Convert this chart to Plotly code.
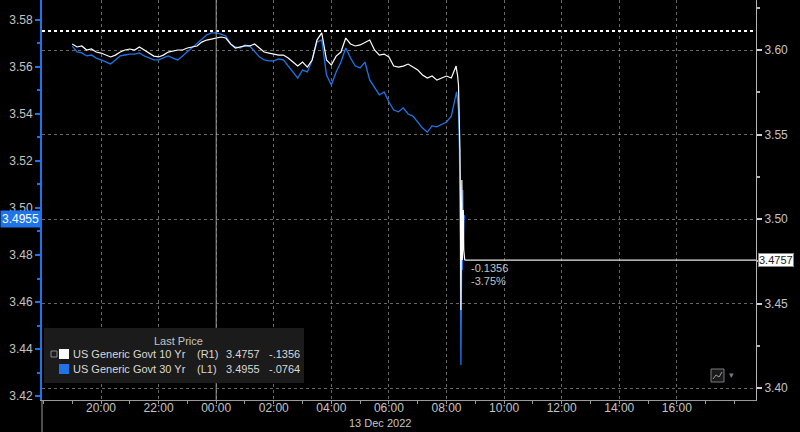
import pandas as pd
import plotly.graph_objects as go

# ---------------- data ----------------
times_regular = list(pd.date_range("2022-12-12 19:00", "2022-12-13 08:20", freq="10min"))
times_drop = list(pd.to_datetime([
    "2022-12-13 08:21", "2022-12-13 08:23", "2022-12-13 08:25", "2022-12-13 08:27",
    "2022-12-13 08:28", "2022-12-13 08:29", "2022-12-13 08:30", "2022-12-13 08:31",
    "2022-12-13 08:32", "2022-12-13 08:33", "2022-12-13 08:34", "2022-12-13 08:35",
    "2022-12-13 08:36", "2022-12-13 08:37", "2022-12-13 08:38"]))
times = times_regular + times_drop

# US Generic Govt 10 Yr (right axis)
ten_yr = [
    3.6036, 3.6018, 3.6024, 3.6000, 3.6006, 3.5988, 3.5982, 3.5970, 3.5959, 3.5970,
    3.5988, 3.6000, 3.6006, 3.6000, 3.6018, 3.6000, 3.5982, 3.5964, 3.5959, 3.5970,
    3.5988, 3.5994, 3.6000, 3.6000, 3.6012, 3.6018, 3.6024, 3.6047, 3.6059, 3.6065,
    3.6071, 3.6077, 3.6071, 3.6036, 3.6012, 3.6018, 3.6024, 3.6024, 3.6036, 3.6012,
    3.5988, 3.5982, 3.5976, 3.5970, 3.5970, 3.5953, 3.5929, 3.5905, 3.5929, 3.5899,
    3.5941, 3.6059, 3.6101, 3.5941, 3.5911, 3.5964, 3.5988, 3.6071, 3.6036, 3.6024,
    3.6030, 3.6047, 3.6059, 3.6000, 3.5970, 3.5976, 3.5959, 3.5905, 3.5899, 3.5905,
    3.5917, 3.5899, 3.5882, 3.5852, 3.5834, 3.5846, 3.5822, 3.5834, 3.5846, 3.5834,
    3.5905,
    3.5882, 3.5852, 3.5793, 3.5586, 3.5408, 3.5112, 3.4462, 3.4935, 3.5231, 3.4757,
    3.4876, 3.5053, 3.4817, 3.4757, 3.4757]

# US Generic Govt 30 Yr (left axis)
thirty_yr = [
    3.5689, 3.5664, 3.5660, 3.5647, 3.5651, 3.5638, 3.5630, 3.5621, 3.5613, 3.5630,
    3.5647, 3.5651, 3.5655, 3.5655, 3.5660, 3.5647, 3.5638, 3.5630, 3.5630, 3.5638,
    3.5647, 3.5638, 3.5630, 3.5647, 3.5664, 3.5681, 3.5698, 3.5715, 3.5736, 3.5745,
    3.5745, 3.5740, 3.5732, 3.5698, 3.5685, 3.5681, 3.5694, 3.5689, 3.5664, 3.5643,
    3.5630, 3.5626, 3.5626, 3.5634, 3.5630, 3.5604, 3.5579, 3.5553, 3.5587, 3.5579,
    3.5630, 3.5706, 3.5715, 3.5566, 3.5523, 3.5579, 3.5621, 3.5681, 3.5638, 3.5604,
    3.5596, 3.5621, 3.5545, 3.5511, 3.5481, 3.5494, 3.5451, 3.5417, 3.5409, 3.5426,
    3.5400, 3.5391, 3.5366, 3.5340, 3.5323, 3.5349, 3.5345, 3.5357, 3.5366, 3.5391,
    3.5481,
    3.5494, 3.5460, 3.5417, 3.5247, 3.5077, 3.4779, 3.4332, 3.4609, 3.4906, 3.4736,
    3.5077, 3.4864, 3.4949, 3.4970, 3.4955]

ten_prev_close = 3.6113
thirty_prev_close = 3.5719

names = ["US Generic Govt 10 Yr", "US Generic Govt 30 Yr"]
axis_tags = ["(R1)", "(L1)"]
x_range = ["2022-12-12 17:57", "2022-12-13 18:45"]
x_tickvals = ["2022-12-12 20:00", "2022-12-12 22:00", "2022-12-13 00:00",
              "2022-12-13 02:00", "2022-12-13 04:00", "2022-12-13 06:00",
              "2022-12-13 08:00", "2022-12-13 10:00", "2022-12-13 12:00",
              "2022-12-13 14:00", "2022-12-13 16:00"]
x_ticktext = ["20:00", "22:00", "00:00", "02:00", "04:00", "06:00",
              "08:00", "10:00", "12:00", "14:00", "16:00"]
left_range = [3.4183, 3.5885]
right_range = [3.3929, 3.6296]

# ---------------- derived ----------------
ten_last = ten_yr[-1]
thirty_last = thirty_yr[-1]
ten_chg = ten_last - ten_prev_close
thirty_chg = thirty_last - thirty_prev_close
ten_pct = ten_chg / ten_prev_close * 100


def short_chg(v):
    s = f"{v:.4f}"
    return s.replace("-0.", "-.").replace("0.", ".")


BLUE = "#1f74ea"
GREY = "#c4c4c4"
FONT = "Liberation Sans, Arial, sans-serif"

L, R, T, B = 42, 44, 0, 32
W, H = 800, 432
PW, PH = W - L - R, H - T - B


def px(x):
    return (x - L) / PW


def py(y):
    return 1 - (y - T) / PH


fig = go.Figure()
fig.add_trace(go.Scatter(x=times, y=thirty_yr, mode="lines", yaxis="y",
                         line=dict(color=BLUE, width=1.3), name=names[1],
                         showlegend=False, hoverinfo="skip"))
fig.add_trace(go.Scatter(x=times, y=ten_yr, mode="lines", yaxis="y2",
                         line=dict(color="#ffffff", width=1.2), name=names[0],
                         showlegend=False, hoverinfo="skip"))

shapes = []
# previous close dotted line (10yr)
shapes.append(dict(type="line", xref="paper", x0=0, x1=1, yref="y2",
                   y0=ten_prev_close, y1=ten_prev_close,
                   line=dict(color="#ffffff", width=2, dash="dot")))
# last value line (10yr) to right edge
shapes.append(dict(type="line", xref="x", x0=times[-1], x1=x_range[1], yref="y2",
                   y0=ten_last, y1=ten_last, line=dict(color="#e8e8e8", width=1.3)))
# day separator
shapes.append(dict(type="line", xref="x", x0="2022-12-13 00:00", x1="2022-12-13 00:00",
                   yref="paper", y0=0, y1=1, line=dict(color="#9a9a9a", width=1)))
# left stub under x axis
shapes.append(dict(type="line", xref="paper", x0=0, x1=0, yref="paper",
                   y0=0, y1=py(432), line=dict(color="#9a9a9a", width=1)))
# legend box
shapes.append(dict(type="rect", xref="paper", yref="paper", x0=px(44), x1=px(304),
                   y0=py(383), y1=py(328), fillcolor="#1b1b1b", line=dict(width=0),
                   layer="above"))
shapes.append(dict(type="rect", xref="paper", yref="paper", x0=px(51), x1=px(57),
                   y0=py(357), y1=py(351), line=dict(color="#8a8a8a", width=1),
                   layer="above"))
shapes.append(dict(type="rect", xref="paper", yref="paper", x0=px(59), x1=px(69),
                   y0=py(359), y1=py(349), fillcolor="#ffffff", line=dict(width=0),
                   layer="above"))
shapes.append(dict(type="rect", xref="paper", yref="paper", x0=px(59), x1=px(69),
                   y0=py(374), y1=py(364), fillcolor=BLUE, line=dict(width=0),
                   layer="above"))
# small chart icon
shapes.append(dict(type="rect", xref="paper", yref="paper", x0=px(711), x1=px(724),
                   y0=py(382), y1=py(369), fillcolor="#1a1a1a",
                   line=dict(color="#7a7a7a", width=1), layer="above"))
shapes.append(dict(type="path", xref="paper", yref="paper",
                   path=f"M {px(713)} {py(379)} L {px(716)} {py(375)} L {px(719)} {py(377)} L {px(722)} {py(372)}",
                   line=dict(color="#9a9a9a", width=1), layer="above"))


def note(x, y, text, size=11, color=GREY, xanchor="left"):
    return dict(xref="paper", x=px(x), xanchor=xanchor, yref="paper", y=py(y),
                yanchor="middle", text=text, showarrow=False,
                font=dict(color=color, size=size, family=FONT))


annotations = []
# last value boxes
annotations.append(dict(xref="paper", x=0, xanchor="right", xshift=-1, yref="y",
                        y=thirty_last, yanchor="middle", text=f"{thirty_last:.4f}",
                        showarrow=False, bgcolor=BLUE,
                        font=dict(color="#ffffff", size=12, family=FONT), borderpad=1))
annotations.append(dict(xref="paper", x=1, xanchor="left", xshift=2, yref="y2",
                        y=ten_last, yanchor="middle", text=f"{ten_last:.4f}",
                        showarrow=False, bgcolor="#ffffff", bordercolor="#888888",
                        borderwidth=1, font=dict(color="#222222", size=11, family=FONT),
                        borderpad=0))
# change annotation
annotations.append(note(469, 268, f"{ten_chg:.4f}"))
annotations.append(note(469, 281, f"{ten_pct:.2f}%"))
# date label
annotations.append(note(380, 423, "13 Dec 2022", size=11, xanchor="center"))
# legend
annotations.append(note(178, 341, "Last Price", xanchor="center"))
rows = [
    (names[0], axis_tags[0], ten_last, ten_chg, 354),
    (names[1], axis_tags[1], thirty_last, thirty_chg, 369),
]
for nm, tag, last, chg, yy in rows:
    for txt, xx in [(nm, 71), (tag, 195), (f"{last:.4f}", 224), (short_chg(chg), 267)]:
        annotations.append(note(xx, yy, txt, color="#d8d8d8"))
annotations.append(note(731, 375, "▾", size=9, color="#7a7a7a", xanchor="center"))

fig.update_layout(
    width=W, height=H,
    margin=dict(l=L, r=R, t=T, b=B, pad=0, autoexpand=False),
    paper_bgcolor="#000000", plot_bgcolor="#000000",
    font=dict(family=FONT, color=GREY, size=12),
    showlegend=False,
    shapes=shapes, annotations=annotations,
    xaxis=dict(
        type="date", range=x_range, automargin=False,
        tickvals=x_tickvals, ticktext=x_ticktext,
        showgrid=True, gridcolor="rgba(190,190,190,0.55)", griddash="dot", gridwidth=1,
        showline=True, linecolor="#9a9a9a", linewidth=1,
        ticks="outside", ticklen=3, tickcolor="#9a9a9a",
        minor=dict(dtick=3600000, tick0="2022-12-12 19:00", ticks="outside",
                   ticklen=3, tickcolor="#9a9a9a", showgrid=False),
        ticklabelstandoff=-6,
        tickfont=dict(color=GREY, size=12), zeroline=False, fixedrange=True,
    ),
    yaxis=dict(
        range=left_range, side="left", dtick=0.02, tick0=3.40, tickformat=".2f",
        automargin=False, fixedrange=True,
        showgrid=False, zeroline=False,
        showline=True, linecolor=BLUE, linewidth=2,
        ticks="outside", ticklen=5, tickwidth=2, tickcolor=BLUE,
        minor=dict(dtick=0.01, ticks="outside", ticklen=3, tickcolor=BLUE),
        tickfont=dict(color=GREY, size=12),
    ),
    yaxis2=dict(
        range=right_range, side="right", overlaying="y", dtick=0.05, tick0=3.40,
        tickformat=".2f", automargin=False, fixedrange=True,
        showgrid=True, gridcolor="rgba(190,190,190,0.55)", griddash="dot", gridwidth=1,
        zeroline=False, showline=True, linecolor="#b5b5b5", linewidth=1,
        ticks="outside", ticklen=5, tickwidth=2, tickcolor="#d0d0d0",
        minor=dict(dtick=0.025, ticks="outside", ticklen=3, tickcolor="#b5b5b5"),
        tickfont=dict(color=GREY, size=12),
    ),
)

fig.write_html("out.html", config={"displayModeBar": False},
               post_script="document.body.style.margin='0px';")
